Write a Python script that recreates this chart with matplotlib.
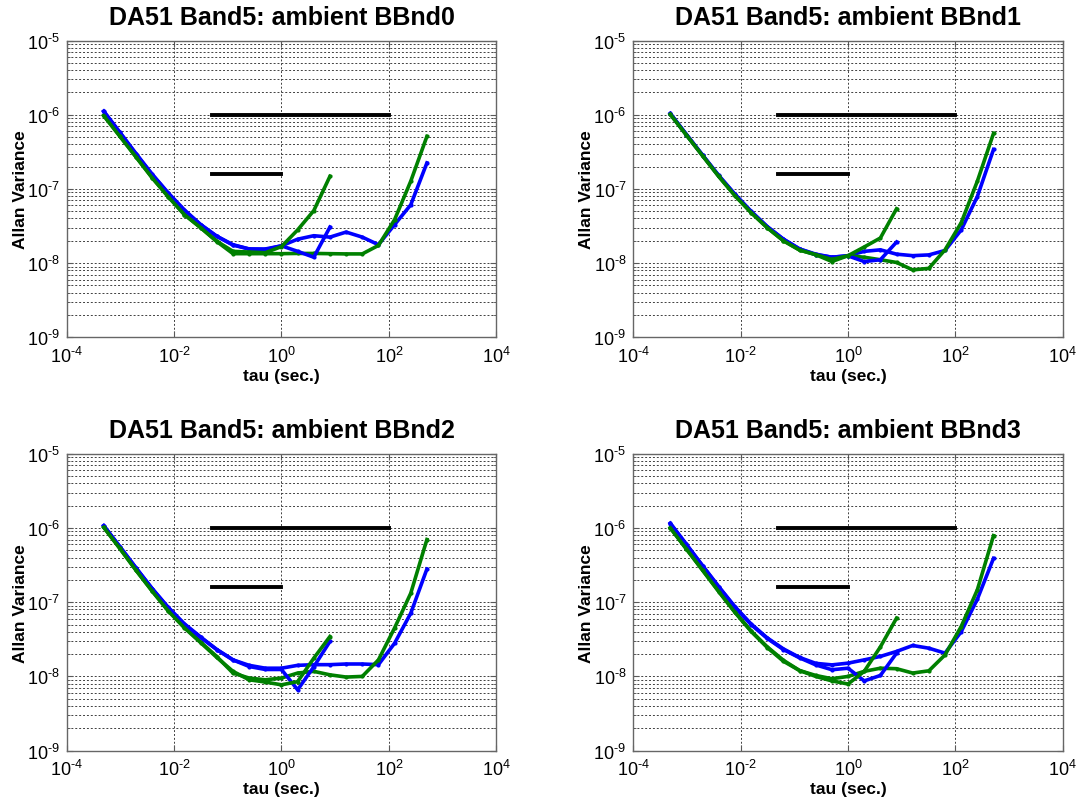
import matplotlib
matplotlib.use("Agg")
import numpy as np
import matplotlib.pyplot as plt
from matplotlib.ticker import NullLocator, FixedLocator, FuncFormatter, NullFormatter

plt.rcParams['font.family'] = ['Liberation Sans', 'DejaVu Sans']
plt.rcParams['mathtext.fontset'] = 'custom'
plt.rcParams['mathtext.rm'] = 'Liberation Sans'

# tau grid (s), long runs go to 512 s, short runs stop at 8 s
tau_long = [0.000488, 0.000977, 0.00195, 0.0039, 0.0078, 0.0156, 0.03125, 0.0625,
            0.125, 0.25, 0.5, 1, 2, 4, 8, 16, 32, 64, 128, 256, 512]
tau_short = tau_long[:15]

titles = ["DA51 Band5: ambient BBnd0", "DA51 Band5: ambient BBnd1",
          "DA51 Band5: ambient BBnd2", "DA51 Band5: ambient BBnd3"]

blue_long = [
    [1.12e-6, 5.8e-7, 3.0e-7, 1.58e-7, 8.8e-8, 5.2e-8, 3.3e-8, 2.3e-8, 1.77e-8, 1.55e-8, 1.52e-8,
     1.71e-8, 2.1e-8, 2.34e-8, 2.24e-8, 2.62e-8, 2.24e-8, 1.77e-8, 3.3e-8, 6.1e-8, 2.24e-7],
    [1.04e-6, 5.4e-7, 2.85e-7, 1.52e-7, 8.5e-8, 5.0e-8, 3.1e-8, 2.1e-8, 1.55e-8, 1.32e-8, 1.2e-8,
     1.26e-8, 1.44e-8, 1.51e-8, 1.32e-8, 1.26e-8, 1.29e-8, 1.48e-8, 2.8e-8, 7.9e-8, 3.4e-7],
    [1.08e-6, 5.6e-7, 2.9e-7, 1.53e-7, 8.5e-8, 5.1e-8, 3.4e-8, 2.3e-8, 1.67e-8, 1.41e-8, 1.29e-8,
     1.29e-8, 1.41e-8, 1.44e-8, 1.44e-8, 1.47e-8, 1.47e-8, 1.44e-8, 2.8e-8, 7.1e-8, 2.8e-7],
    [1.16e-6, 6.0e-7, 3.1e-7, 1.62e-7, 8.7e-8, 5.1e-8, 3.3e-8, 2.35e-8, 1.8e-8, 1.5e-8, 1.43e-8,
     1.51e-8, 1.67e-8, 1.86e-8, 2.17e-8, 2.61e-8, 2.4e-8, 2.06e-8, 4.0e-8, 1.1e-7, 3.9e-7],
]
blue_short = [
    [1.1e-6, 5.7e-7, 2.95e-7, 1.56e-7, 8.7e-8, 5.1e-8, 3.3e-8, 2.3e-8, 1.75e-8, 1.55e-8, 1.55e-8,
     1.71e-8, 1.44e-8, 1.2e-8, 3.06e-8],
    [1.03e-6, 5.4e-7, 2.85e-7, 1.5e-7, 8.4e-8, 4.95e-8, 3.1e-8, 2.1e-8, 1.55e-8, 1.3e-8, 1.2e-8,
     1.25e-8, 1.05e-8, 1.11e-8, 1.92e-8],
    [1.07e-6, 5.6e-7, 2.9e-7, 1.52e-7, 8.4e-8, 5.0e-8, 3.35e-8, 2.3e-8, 1.67e-8, 1.36e-8, 1.24e-8,
     1.24e-8, 6.6e-9, 1.35e-8, 2.96e-8],
    [1.15e-6, 6.0e-7, 3.1e-7, 1.61e-7, 8.6e-8, 5.0e-8, 3.25e-8, 2.3e-8, 1.78e-8, 1.43e-8, 1.23e-8,
     1.29e-8, 8.7e-9, 1.03e-8, 2.06e-8],
]
green_long = [
    [9.8e-7, 5.2e-7, 2.7e-7, 1.42e-7, 7.9e-8, 4.5e-8, 3.0e-8, 1.95e-8, 1.34e-8, 1.34e-8, 1.34e-8,
     1.34e-8, 1.35e-8, 1.35e-8, 1.34e-8, 1.33e-8, 1.33e-8, 1.73e-8, 3.85e-8, 1.27e-7, 5.1e-7],
    [1.02e-6, 5.3e-7, 2.8e-7, 1.48e-7, 8.2e-8, 4.8e-8, 3.0e-8, 2.0e-8, 1.5e-8, 1.3e-8, 1.05e-8,
     1.26e-8, 1.2e-8, 1.11e-8, 1.02e-8, 8.1e-9, 8.5e-9, 1.51e-8, 3.5e-8, 1.27e-7, 5.6e-7],
    [1.03e-6, 5.3e-7, 2.7e-7, 1.42e-7, 7.7e-8, 4.6e-8, 2.9e-8, 1.85e-8, 1.11e-8, 9.5e-9, 9.0e-9,
     9.5e-9, 1.11e-8, 1.17e-8, 1.05e-8, 9.8e-9, 1.0e-8, 1.67e-8, 4.5e-8, 1.32e-7, 7.0e-7],
    [1.01e-6, 5.2e-7, 2.7e-7, 1.4e-7, 7.4e-8, 4.1e-8, 2.5e-8, 1.65e-8, 1.2e-8, 1.03e-8, 9.3e-9,
     1.0e-8, 1.17e-8, 1.29e-8, 1.27e-8, 1.11e-8, 1.19e-8, 1.95e-8, 4.7e-8, 1.47e-7, 7.9e-7],
]
green_short = [
    [9.7e-7, 5.1e-7, 2.7e-7, 1.41e-7, 7.8e-8, 4.5e-8, 3.0e-8, 1.97e-8, 1.44e-8, 1.41e-8, 1.38e-8,
     1.67e-8, 2.8e-8, 5.1e-8, 1.48e-7],
    [1.01e-6, 5.3e-7, 2.8e-7, 1.47e-7, 8.1e-8, 4.8e-8, 3.0e-8, 2.0e-8, 1.5e-8, 1.3e-8, 1.12e-8,
     1.26e-8, 1.65e-8, 2.18e-8, 5.4e-8],
    [1.02e-6, 5.3e-7, 2.7e-7, 1.41e-7, 7.6e-8, 4.5e-8, 2.85e-8, 1.8e-8, 1.17e-8, 9.0e-9, 8.4e-9,
     7.7e-9, 8.5e-9, 1.76e-8, 3.45e-8],
    [1.0e-6, 5.2e-7, 2.7e-7, 1.39e-7, 7.3e-8, 4.05e-8, 2.45e-8, 1.6e-8, 1.2e-8, 1.0e-8, 8.7e-9,
     7.9e-9, 1.17e-8, 2.5e-8, 6.1e-8],
]

# spec lines
spec_long_x = [0.05, 100]
spec_long_y = [1e-6, 1e-6]
spec_short_x = [0.05, 1]
spec_short_y = [1.6e-7, 1.6e-7]

x_ticks = [1e-4, 1e-2, 1e0, 1e2, 1e4]
y_ticks = [1e-9, 1e-8, 1e-7, 1e-6, 1e-5]
y_minor = [m * d for d in y_ticks[:-1] for m in range(2, 10)]


def pow10(v, pos):
    # matlab style: plain hyphen in the exponent
    e = int(round(np.log10(v)))
    return r'$\mathregular{10^{\text{%d}}}$' % e


fig = plt.figure(figsize=(10.78, 8.03), dpi=100)

lefts = [0.0619, 0.5875, 0.0619, 0.5875]
bottoms = [0.5787, 0.5787, 0.0640, 0.0640]
w, h = 0.3984, 0.3696

blue = (0, 0, 1)
green = (0, 0.5, 0)
grid_kw = dict(color='0.25', linestyle=(0, (2, 2)), linewidth=0.7)

for i in range(4):
    ax = fig.add_axes([lefts[i], bottoms[i], w, h])
    ax.set_xscale('log')
    ax.set_yscale('log')
    ax.set_xlim(1e-4, 1e4)
    ax.set_ylim(1e-9, 1e-5)

    ax.plot(tau_long, blue_long[i], color=blue, lw=2.6, marker='.', ms=4)
    ax.plot(tau_long, green_long[i], color=green, lw=2.6, marker='.', ms=4)
    ax.plot(tau_short, blue_short[i], color=blue, lw=2.6, marker='.', ms=4)
    ax.plot(tau_short, green_short[i], color=green, lw=2.6, marker='.', ms=4)
    ax.plot(spec_long_x, spec_long_y, color='k', lw=2.8)
    ax.plot(spec_short_x, spec_short_y, color='k', lw=2.8)

    ax.xaxis.set_major_locator(FixedLocator(x_ticks))
    ax.xaxis.set_minor_locator(NullLocator())
    ax.yaxis.set_major_locator(FixedLocator(y_ticks))
    ax.yaxis.set_minor_locator(FixedLocator(y_minor))
    ax.xaxis.set_major_formatter(FuncFormatter(pow10))
    ax.yaxis.set_major_formatter(FuncFormatter(pow10))
    ax.yaxis.set_minor_formatter(NullFormatter())
    ax.grid(True, which='major', axis='both', **grid_kw)
    ax.grid(True, which='minor', axis='y', **grid_kw)
    ax.set_axisbelow(True)

    ax.tick_params(which='both', direction='in', top=True, right=True, labelsize=13,
                   color='0.35')
    ax.tick_params(axis='x', pad=6)
    ax.tick_params(axis='y', pad=5)
    ax.tick_params(which='major', length=4)
    ax.tick_params(which='minor', length=2)
    for s in ax.spines.values():
        s.set_color('0.4')
        s.set_linewidth(1.0)

    ax.set_title(titles[i], fontsize=18, fontweight='bold', pad=12)
    ax.set_xlabel('tau (sec.)', fontsize=12.5, fontweight='bold')
    ax.set_ylabel('Allan Variance', fontsize=12.5, fontweight='bold')
    ax.xaxis.set_label_coords(0.5, -0.102)
    ax.yaxis.set_label_coords(-0.091, 0.5)

fig.savefig('out.png', dpi=100)
